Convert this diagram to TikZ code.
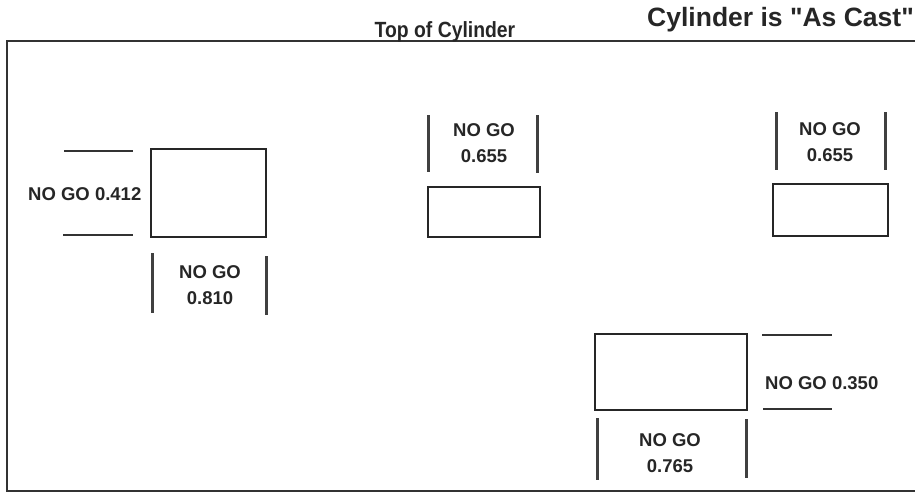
\documentclass[tikz,border=0pt]{standalone}
\usepackage{fontspec}
\setmainfont{Liberation Sans}
\newfontfamily\castfont{Liberation Sans}[Ligatures=TeXOff]
\begin{document}
\begin{tikzpicture}[x=1pt,y=-1pt,
  gbox/.style={draw=black!85, line width=1.5pt, inner sep=0pt},
  bar/.style={draw=black!75, line width=3pt},
  tick/.style={draw=black!80, line width=1.6pt},
  lab/.style={font=\fontsize{18.5}{25.5}\selectfont\bfseries, text=black!85, inner sep=0pt, align=center},
  frame/.style={draw=black!80, line width=1.6pt}]
\useasboundingbox (0,0) rectangle (915,493);
% frame
\draw[frame] (917,41) -- (7,41) -- (7,491) -- (917,491);
% titles
\node[font=\fontsize{22}{23}\selectfont\bfseries, text=black!85, inner sep=0pt, xscale=0.88] (top) at (445,32) {Top of Cylinder};
\node[font=\castfont\fontsize{26.5}{28}\selectfont\bfseries, text=black!85, inner sep=0pt, anchor=west] (cast) at (647,20) {Cylinder is "As Cast"};
% box A
\node[gbox, minimum width=115pt, minimum height=88pt] (A) at (208.5,193) {};
\coordinate (a1s) at (64,151); \coordinate (a1e) at (133,151);
\coordinate (a2s) at (63,235); \coordinate (a2e) at (133,235);
\draw[tick] (a1s) -- (a1e);
\draw[tick] (a2s) -- (a2e);
\node[lab, anchor=west] (la) at (28,194) {NO GO 0.412};
\coordinate (ab1s) at (152,253); \coordinate (ab1e) at (152,313);
\coordinate (ab2s) at (266,256); \coordinate (ab2e) at (266,315);
\draw[bar] (ab1s) -- (ab1e);
\draw[bar] (ab2s) -- (ab2e);
\node[lab] (lb) at (210,285) {NO GO\\0.810};
% box B
\node[gbox, minimum width=112pt, minimum height=50pt] (B) at (484,212) {};
\coordinate (b1s) at (428,115); \coordinate (b1e) at (428,172);
\coordinate (b2s) at (537,115); \coordinate (b2e) at (537,173);
\draw[bar] (b1s) -- (b1e);
\draw[bar] (b2s) -- (b2e);
\node[lab] (lbb) at (484,143) {NO GO\\0.655};
% box C
\node[gbox, minimum width=115pt, minimum height=52pt] (C) at (830.5,210) {};
\coordinate (c1s) at (776,112); \coordinate (c1e) at (776,170);
\coordinate (c2s) at (885,112); \coordinate (c2e) at (885,170);
\draw[bar] (c1s) -- (c1e);
\draw[bar] (c2s) -- (c2e);
\node[lab] (lc) at (830,142) {NO GO\\0.655};
% box D
\node[gbox, minimum width=152pt, minimum height=76pt] (D) at (671,372) {};
\coordinate (d1s) at (762,335); \coordinate (d1e) at (832,335);
\coordinate (d2s) at (763,409); \coordinate (d2e) at (832,409);
\draw[tick] (d1s) -- (d1e);
\draw[tick] (d2s) -- (d2e);
\node[lab, anchor=west] (ld) at (765,383) {NO GO 0.350};
\coordinate (db1s) at (597,418); \coordinate (db1e) at (597,480);
\coordinate (db2s) at (746,419); \coordinate (db2e) at (746,478);
\draw[bar] (db1s) -- (db1e);
\draw[bar] (db2s) -- (db2e);
\node[lab] (ldb) at (670,453) {NO GO\\0.765};
\end{tikzpicture}
\end{document}
